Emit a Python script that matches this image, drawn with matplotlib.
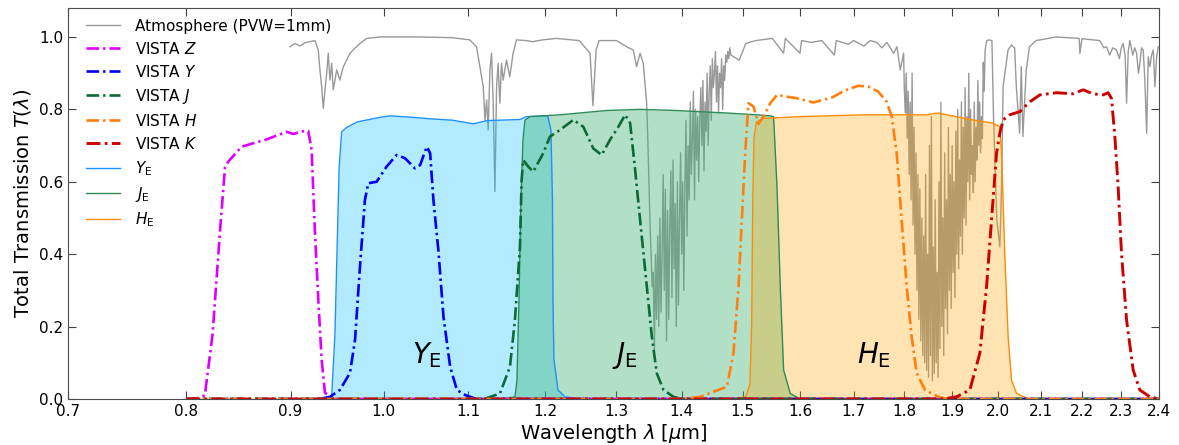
import matplotlib
matplotlib.use('Agg')
import matplotlib.pyplot as plt
from matplotlib.ticker import FixedLocator, FixedFormatter, NullLocator

# atmospheric transmission (PWV = 1 mm), (wavelength, T)
atm = [(0.8995, 0.973), (0.9045, 0.982), (0.9096, 0.975), (0.9148, 0.984), (0.9200, 0.987),
       (0.9252, 0.990), (0.9286, 0.964), (0.9304, 0.909), (0.9322, 0.863), (0.9339, 0.803),
       (0.9357, 0.854), (0.9375, 0.900), (0.9392, 0.955), (0.9410, 0.881), (0.9428, 0.927),
       (0.9445, 0.854), (0.9482, 0.909), (0.9516, 0.881), (0.9553, 0.918), (0.9589, 0.936),
       (0.9625, 0.955), (0.9679, 0.969), (0.9734, 0.982), (0.9808, 0.996), (0.9956, 1.000),
       (1.0410, 1.000), (1.0800, 0.998), (1.1020, 0.992), (1.1104, 0.973), (1.1146, 0.918),
       (1.1188, 0.863), (1.1210, 0.771), (1.1231, 0.826), (1.1251, 0.743), (1.1273, 0.909),
       (1.1294, 0.955), (1.1315, 0.817), (1.1337, 0.573), (1.1358, 0.863), (1.1378, 0.927),
       (1.1400, 0.817), (1.1422, 0.927), (1.1443, 0.881), (1.1486, 0.936), (1.1529, 0.890),
       (1.1572, 0.955), (1.1616, 0.992), (1.1747, 0.990), (1.1830, 0.987), (1.1964, 0.992),
       (1.2149, 0.996), (1.2469, 0.990), (1.2623, 0.955), (1.2664, 0.810), (1.2709, 0.964),
       (1.2752, 0.990), (1.3007, 0.990), (1.3155, 0.973), (1.3254, 0.964), (1.3304, 0.918),
       (1.3357, 0.955), (1.3405, 0.927),
       # 1.35 - 1.48 water band
       (1.3456, 0.817), (1.3473, 0.72), (1.3490, 0.60), (1.3506, 0.494), (1.3523, 0.40),
       (1.3540, 0.31), (1.3557, 0.35), (1.3574, 0.126), (1.3591, 0.40), (1.3608, 0.22),
       (1.3625, 0.45), (1.3642, 0.20), (1.3659, 0.50), (1.3676, 0.24), (1.3693, 0.40),
       (1.3710, 0.62), (1.3727, 0.30), (1.3744, 0.58), (1.3761, 0.16), (1.3778, 0.52),
       (1.3795, 0.22), (1.3812, 0.48), (1.3829, 0.63), (1.3846, 0.28), (1.3863, 0.66),
       (1.3880, 0.36), (1.3897, 0.54), (1.3914, 0.20), (1.3931, 0.60), (1.3948, 0.26),
       (1.3965, 0.50), (1.3982, 0.68), (1.3999, 0.40), (1.4016, 0.60), (1.4033, 0.30),
       (1.4050, 0.58), (1.4067, 0.77), (1.4084, 0.45), (1.4101, 0.70), (1.4118, 0.55),
       (1.4135, 0.82), (1.4152, 0.62), (1.4169, 0.72), (1.4186, 0.85), (1.4203, 0.55),
       (1.4220, 0.80), (1.4237, 0.66), (1.4254, 0.78), (1.4271, 0.60), (1.4288, 0.77),
       (1.4305, 0.86), (1.4322, 0.70), (1.4339, 0.88), (1.4356, 0.63), (1.4373, 0.82),
       (1.4390, 0.74), (1.4407, 0.90), (1.4424, 0.70), (1.4441, 0.85), (1.4458, 0.92),
       (1.4475, 0.77), (1.4492, 0.94), (1.4509, 0.86), (1.4526, 0.90), (1.4543, 0.96),
       (1.4560, 0.82), (1.4577, 0.92), (1.4594, 0.79), (1.4611, 0.90), (1.4628, 0.86),
       (1.4645, 0.94), (1.4662, 0.80), (1.4679, 0.92), (1.4696, 0.88), (1.4713, 0.95),
       (1.4730, 0.93), (1.4747, 0.96), (1.4764, 0.94), (1.4781, 0.97), (1.4798, 0.95),
       (1.4939, 0.936), (1.5050, 0.982), (1.5222, 0.990), (1.5508, 0.996), (1.5707, 0.955),
       (1.5737, 0.996), (1.6000, 0.955), (1.6029, 0.990), (1.6200, 0.985), (1.6400, 0.990),
       (1.6634, 0.950), (1.6668, 0.990), (1.6900, 0.980), (1.7000, 0.990), (1.7200, 0.975),
       (1.7319, 0.990), (1.7450, 0.985), (1.7550, 0.970), (1.7650, 0.985), (1.7784, 0.955),
       (1.7852, 0.973), (1.7919, 0.909), (1.7987, 0.955),
       # 1.80 - 1.98 water band
       (1.800, 0.86), (1.802, 0.79), (1.804, 0.90), (1.806, 0.72), (1.808, 0.85),
       (1.810, 0.62), (1.812, 0.82), (1.814, 0.55), (1.816, 0.90), (1.818, 0.48),
       (1.820, 0.75), (1.822, 0.40), (1.824, 0.68), (1.826, 0.30), (1.828, 0.62),
       (1.830, 0.22), (1.832, 0.58), (1.834, 0.16), (1.836, 0.50), (1.838, 0.12),
       (1.840, 0.45), (1.842, 0.10), (1.844, 0.62), (1.846, 0.08), (1.848, 0.40),
       (1.850, 0.06), (1.852, 0.70), (1.854, 0.12), (1.856, 0.78), (1.858, 0.05),
       (1.860, 0.42), (1.862, 0.07), (1.864, 0.55), (1.866, 0.10), (1.868, 0.35),
       (1.870, 0.06), (1.872, 0.60), (1.874, 0.14), (1.876, 0.82), (1.878, 0.20),
       (1.880, 0.50), (1.882, 0.12), (1.884, 0.68), (1.886, 0.25), (1.888, 0.55),
       (1.890, 0.18), (1.892, 0.75), (1.894, 0.30), (1.896, 0.62), (1.898, 0.25),
       (1.900, 0.70), (1.902, 0.35), (1.904, 0.60), (1.906, 0.28), (1.908, 0.74),
       (1.910, 0.40), (1.912, 0.80), (1.914, 0.36), (1.916, 0.66), (1.918, 0.45),
       (1.920, 0.82), (1.922, 0.40), (1.924, 0.75), (1.926, 0.50), (1.928, 0.86),
       (1.930, 0.48), (1.932, 0.78), (1.934, 0.60), (1.936, 0.90), (1.938, 0.55),
       (1.940, 0.80), (1.942, 0.62), (1.944, 0.70), (1.946, 0.57), (1.948, 0.82),
       (1.950, 0.60), (1.952, 0.75), (1.954, 0.66), (1.956, 0.88), (1.958, 0.70),
       (1.960, 0.82), (1.962, 0.68), (1.964, 0.78), (1.966, 0.72), (1.968, 0.93),
       (1.970, 0.85), (1.972, 0.96), (1.974, 0.98), (1.976, 0.99),
       (1.9800, 0.992), (1.9873, 0.990), (1.9910, 0.771), (1.9983, 0.494), (2.0052, 0.420),
       (2.0090, 0.586), (2.0126, 0.863), (2.0238, 0.964), (2.0315, 0.978), (2.0390, 0.969),
       (2.0428, 0.863), (2.0505, 0.734), (2.0543, 0.918), (2.0580, 0.725), (2.0658, 0.909),
       (2.0735, 0.973), (2.0891, 0.990), (2.1367, 1.000), (2.1932, 0.996), (2.1950, 0.955),
       (2.2000, 0.995), (2.2448, 0.990), (2.2550, 0.970), (2.2619, 0.973), (2.2700, 0.950),
       (2.2780, 0.970), (2.2876, 0.964), (2.2950, 0.940), (2.3000, 0.970), (2.3047, 0.982),
       (2.3100, 0.950), (2.3137, 0.817), (2.3180, 0.960), (2.3223, 0.990), (2.3300, 0.950),
       (2.3350, 0.970), (2.3400, 0.955), (2.3450, 0.900), (2.3488, 0.927), (2.3530, 0.970),
       (2.3576, 0.964), (2.3620, 0.880), (2.3667, 0.734), (2.3710, 0.945), (2.3755, 0.918),
       (2.3800, 0.950), (2.3845, 0.964), (2.3890, 0.863), (2.3936, 0.945), (2.3980, 0.973)]
atm_wl, atm_t = zip(*atm)

# VISTA filters
z_wl = [0.80, 0.81, 0.817, 0.8242, 0.831, 0.8358, 0.8389, 0.8517, 0.876, 0.8961,
        0.9028, 0.9148, 0.9182, 0.9217, 0.9252, 0.9287, 0.9322, 0.9357, 0.945, 2.40]
z_t = [0, 0.002, 0.01, 0.18, 0.46, 0.64, 0.656, 0.697, 0.717, 0.738,
       0.732, 0.741, 0.74, 0.688, 0.458, 0.273, 0.108, 0.017, 0, 0]

y_wl = [0.80, 0.93, 0.941, 0.9516, 0.9625, 0.968, 0.9734, 0.9789, 0.9826, 0.9919,
        1.0032, 1.0146, 1.0242, 1.0358, 1.0418, 1.0497, 1.0537, 1.0576, 1.0636, 1.0697,
        1.0778, 1.086, 1.0962, 1.11, 2.40]
y_t = [0, 0, 0.006, 0.025, 0.072, 0.163, 0.365, 0.55, 0.596, 0.60,
       0.642, 0.674, 0.665, 0.637, 0.646, 0.697, 0.679, 0.55, 0.41, 0.227,
       0.089, 0.025, 0.011, 0, 0]

j_wl = [0.80, 1.12, 1.1401, 1.1531, 1.1596, 1.1662, 1.1684, 1.1705, 1.1772, 1.1838,
        1.1973, 1.2064, 1.2201, 1.2386, 1.2527, 1.2669, 1.279, 1.2911, 1.3033, 1.3133,
        1.3207, 1.3282, 1.3357, 1.3459, 1.3535, 1.3611, 1.3714, 1.387, 1.40, 2.40]
j_t = [0, 0, 0.015, 0.089, 0.218, 0.42, 0.605, 0.66, 0.642, 0.628,
       0.679, 0.725, 0.743, 0.771, 0.752, 0.692, 0.674, 0.716, 0.752, 0.785,
       0.762, 0.633, 0.494, 0.31, 0.172, 0.071, 0.025, 0.006, 0, 0]

h_wl = [0.80, 1.40, 1.4294, 1.4732, 1.4842, 1.4927, 1.4983, 1.504, 1.5096, 1.5181,
        1.5267, 1.5354, 1.5471, 1.559, 1.5768, 1.5968, 1.6243, 1.6593, 1.6844, 1.7089,
        1.7283, 1.7479, 1.7646, 1.7747, 1.7847, 1.7947, 1.805, 1.8151, 1.8255, 1.8426,
        1.8706, 1.89, 2.40]
h_t = [0, 0, 0.006, 0.034, 0.126, 0.31, 0.494, 0.679, 0.817, 0.808,
       0.76, 0.78, 0.817, 0.84, 0.835, 0.83, 0.819, 0.833, 0.853, 0.865,
       0.863, 0.849, 0.821, 0.78, 0.679, 0.494, 0.31, 0.172, 0.071, 0.025,
       0.006, 0, 0]

k_wl = [0.80, 1.88, 1.9095, 1.9383, 1.9603, 1.9753, 1.9864, 1.9977, 2.0051, 2.0126,
        2.0279, 2.051, 2.0743, 2.0979, 2.1377, 2.1783, 2.2029, 2.2282, 2.2533, 2.266,
        2.2747, 2.2833, 2.2918, 2.3005, 2.3137, 2.331, 2.3485, 2.3753, 2.40]
k_t = [0, 0, 0.006, 0.025, 0.126, 0.31, 0.494, 0.679, 0.734, 0.771,
       0.785, 0.794, 0.821, 0.84, 0.846, 0.843, 0.854, 0.843, 0.84, 0.846,
       0.83, 0.725, 0.586, 0.402, 0.218, 0.08, 0.025, 0.006, 0]

# Euclid filters
ye_wl = [0.92, 0.9428, 0.9463, 0.9508, 0.9535, 0.9589, 0.97, 0.9956, 1.0069, 1.0338,
         1.0535, 1.0811, 1.1063, 1.1236, 1.1661, 1.1749, 1.2018, 1.2036, 1.2077, 1.2098,
         1.2105, 1.2118, 1.2173, 1.227, 1.25]
ye_t = [0, 0.006, 0.18, 0.64, 0.738, 0.75, 0.765, 0.778, 0.782, 0.778,
        0.774, 0.77, 0.76, 0.769, 0.772, 0.78, 0.782, 0.78, 0.743, 0.55,
        0.27, 0.11, 0.025, 0.006, 0]

je_wl = [1.14, 1.1596, 1.1622, 1.1649, 1.1675, 1.1702, 1.1728, 1.1795, 1.2201, 1.2867,
         1.3357, 1.389, 1.4721, 1.5239, 1.5471, 1.553, 1.559, 1.5648, 1.5707, 1.5826, 1.60]
je_t = [0, 0.006, 0.05, 0.27, 0.55, 0.715, 0.77, 0.78, 0.785, 0.797,
        0.80, 0.797, 0.79, 0.785, 0.782, 0.78, 0.586, 0.31, 0.08, 0.015, 0]

he_wl = [1.48, 1.505, 1.512, 1.515, 1.517, 1.519, 1.523, 1.535, 1.60, 1.7221,
         1.8466, 1.87, 1.9442, 1.9894, 2.0051, 2.009, 2.0164, 2.024, 2.0318, 2.0433, 2.07]
he_t = [0, 0.006, 0.04, 0.2, 0.55, 0.72, 0.765, 0.775, 0.78, 0.785,
        0.785, 0.79, 0.771, 0.762, 0.752, 0.68, 0.40, 0.172, 0.052, 0.016, 0]

xticks = [0.7, 0.8, 0.9, 1.0, 1.1, 1.2, 1.3, 1.4, 1.5, 1.6, 1.7, 1.8, 1.9, 2.0, 2.1, 2.2, 2.3, 2.4]
xlabels = ['%.1f' % v for v in xticks]

fig = plt.figure(figsize=(11.79, 4.45), dpi=100)
ax = fig.add_axes([68 / 1179, 46 / 445, 1091 / 1179, 391 / 445])

ax.plot(atm_wl, atm_t, color='0.6', lw=1.0, zorder=1, label='Atmosphere (PVW=1mm)')

vista_dash = (0, (4.8, 1.5, 0.9, 1.5))
ax.plot(z_wl, z_t, color='#dd00ff', lw=1.9, ls=vista_dash, zorder=5, label='VISTA $Z$')
ax.plot(y_wl, y_t, color='#0000ee', lw=1.9, ls=vista_dash, zorder=5, label='VISTA $Y$')
ax.plot(j_wl, j_t, color='#0b6a35', lw=1.9, ls=vista_dash, zorder=5, label='VISTA $J$')
ax.plot(h_wl, h_t, color='#ff7f0e', lw=1.9, ls=vista_dash, zorder=5, label='VISTA $H$')
ax.plot(k_wl, k_t, color='#cc0000', lw=2.1, ls=vista_dash, zorder=5, label='VISTA $K$')

ax.fill_between(ye_wl, 0, ye_t, color='#00bfff', alpha=0.3, lw=0, zorder=2)
ax.plot(ye_wl, ye_t, color='#1e90ff', lw=1.0, zorder=3, label=r'$Y_{\rm E}$')
ax.fill_between(je_wl, 0, je_t, color='#3cb371', alpha=0.4, lw=0, zorder=2)
ax.plot(je_wl, je_t, color='#2e8b57', lw=1.0, zorder=3, label=r'$J_{\rm E}$')
ax.fill_between(he_wl, 0, he_t, color='#ffa500', alpha=0.3, lw=0, zorder=2)
ax.plot(he_wl, he_t, color='#ff8c00', lw=1.0, zorder=3, label=r'$H_{\rm E}$')

ax.text(1.05, 0.12, r'$Y_{\rm E}$', fontsize=20, ha='center', va='center')
ax.text(1.313, 0.12, r'$J_{\rm E}$', fontsize=20, ha='center', va='center')
ax.text(1.74, 0.12, r'$H_{\rm E}$', fontsize=20, ha='center', va='center')

ax.set_xscale('log')
ax.set_xlim(0.7, 2.4)
ax.set_ylim(0, 1.08)
ax.xaxis.set_major_locator(FixedLocator(xticks))
ax.xaxis.set_major_formatter(FixedFormatter(xlabels))
ax.xaxis.set_minor_locator(NullLocator())
ax.set_yticks([0.0, 0.2, 0.4, 0.6, 0.8, 1.0])
ax.tick_params(direction='in', top=True, right=True, length=6, width=0.8,
               labelsize=11, colors='0.25', labelcolor='black')
for s in ax.spines.values():
    s.set_color('0.3')

ax.set_xlabel(r'Wavelength $\lambda$ [$\mu$m]', fontsize=14, labelpad=2)
ax.set_ylabel(r'Total Transmission $T(\lambda)$', fontsize=14)

ax.legend(loc='upper left', bbox_to_anchor=(0.007, 1.0), fontsize=11, frameon=False,
          handlelength=2.2, handletextpad=1.0, labelspacing=0.46, borderaxespad=0.3)

fig.savefig('out.png', dpi=100)
